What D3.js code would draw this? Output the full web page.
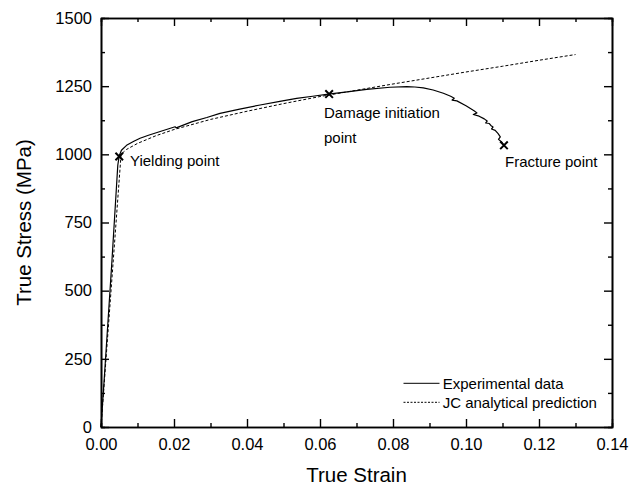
<!DOCTYPE html>
<html><head><meta charset="utf-8">
<script src="https://cdn.jsdelivr.net/npm/d3@7"></script>
<style>
html,body{margin:0;padding:0;background:#fff;}
svg{display:block;font-family:"Liberation Sans",Arial,sans-serif;}
</style></head>
<body><svg id="c" width="629" height="488"></svg>
<script>
// ---- data ----
const expStrain = [0,0.0010,0.0030,0.0046,0.0050,0.0056,0.0070,0.0090,0.0107,0.0130,0.0160,0.0203,0.0206,0.0250,0.0290,0.0326,0.0380,0.0436,0.0490,0.0536,0.0580,0.0623,0.0680,0.0728,0.0792,0.0838,0.0860,0.0883,0.0910,0.0938,0.0958,0.0968,0.0962,0.0975,0.1000,0.1022,0.1030,0.1020,0.1036,0.1050,0.1058,0.1054,0.1064,0.1068,0.1074,0.1070,0.1080,0.1088,0.1094,0.1089,0.1098,0.1104];
const expStress = [0,200,610,960,995,1015,1033,1048,1059,1070,1083,1101,1097,1120,1135,1150,1166,1181,1194,1205,1213,1221,1230,1238,1246,1248,1247,1244,1236,1224,1213,1206,1199,1196,1178,1160,1152,1146,1140,1130,1122,1115,1113,1106,1100,1093,1088,1076,1064,1055,1045,1033];
const jcStrain = [0,0.0055,0.0070,0.0100,0.0150,0.0200,0.0300,0.0400,0.0500,0.0600,0.0700,0.0800,0.0900,0.1000,0.1100,0.1200,0.1300];
const jcStress = [0,1000,1018,1040,1068,1091,1128,1158,1186,1212,1235,1258,1280,1302,1323,1345,1366];
const markStrain = [0.0050,0.0625,0.1104];
const markStress = [992,1221,1033];
const xTicks = [0,0.02,0.04,0.06,0.08,0.10,0.12,0.14];
const yTicks = [0,250,500,750,1000,1250,1500];
const xMinor = [0.01,0.03,0.05,0.07,0.09,0.11,0.13];
const yMinor = [125,375,625,875,1125,1375];
const legendLabels = ["Experimental data","JC analytical prediction"];
const annotations = [
  {text:["Yielding point"], i:0},
  {text:["Damage initiation","point"], i:1},
  {text:["Fracture point"], i:2}
];

// ---- layout ----
const L=101, R=612, T=18, B=427;
const svg = d3.select("#c");
const x = d3.scaleLinear().domain([0,0.14]).range([L,R]);
const y = d3.scaleLinear().domain([0,1500]).range([B,T]);
const fs = 16.5;

function styleAxis(g){
  g.selectAll("path.domain").attr("stroke","#000").attr("stroke-width",1.6);
  g.selectAll(".tick line").attr("stroke","#000").attr("stroke-width",1.4);
  g.selectAll("text").attr("font-size",fs).attr("fill","#000").attr("font-family","Liberation Sans, Arial, sans-serif");
}
// minor ticks
svg.append("g").attr("transform",`translate(0,${B})`).call(d3.axisBottom(x).tickValues(xMinor).tickSize(-4).tickFormat("")).call(styleAxis);
svg.append("g").attr("transform",`translate(0,${T})`).call(d3.axisTop(x).tickValues(xMinor).tickSize(-4).tickFormat("")).call(styleAxis);
svg.append("g").attr("transform",`translate(${L},0)`).call(d3.axisLeft(y).tickValues(yMinor).tickSize(-4).tickFormat("")).call(styleAxis);
svg.append("g").attr("transform",`translate(${R},0)`).call(d3.axisRight(y).tickValues(yMinor).tickSize(-4).tickFormat("")).call(styleAxis);
// major
svg.append("g").attr("transform",`translate(0,${B})`).call(d3.axisBottom(x).tickValues(xTicks).tickSize(-8).tickPadding(11).tickSizeOuter(0).tickFormat(d3.format(".2f"))).call(styleAxis);
svg.append("g").attr("transform",`translate(0,${T})`).call(d3.axisTop(x).tickValues(xTicks).tickSize(-8).tickSizeOuter(0).tickFormat("")).call(styleAxis);
svg.append("g").attr("transform",`translate(${L},0)`).call(d3.axisLeft(y).tickValues(yTicks).tickSize(-8).tickPadding(9).tickSizeOuter(0).tickFormat(d3.format("d"))).call(styleAxis);
svg.append("g").attr("transform",`translate(${R},0)`).call(d3.axisRight(y).tickValues(yTicks).tickSize(-8).tickSizeOuter(0).tickFormat("")).call(styleAxis);

// curves
const line = d3.line().x(d=>x(d[0])).y(d=>y(d[1]));
svg.append("path").datum(jcStrain.map((s,i)=>[s,jcStress[i]]))
  .attr("d",line).attr("fill","none").attr("stroke","#000").attr("stroke-width",1).attr("stroke-dasharray","3,2");
svg.append("path").datum(expStrain.map((s,i)=>[s,expStress[i]]))
  .attr("d",line).attr("fill","none").attr("stroke","#000").attr("stroke-width",1.2).attr("stroke-linejoin","round");

// markers
const m = 3.8;
markStrain.forEach((s,i)=>{
  const cx=x(s), cy=y(markStress[i]);
  svg.append("path").attr("d",`M${cx-m},${cy-m}L${cx+m},${cy+m}M${cx-m},${cy+m}L${cx+m},${cy-m}`)
    .attr("stroke","#000").attr("stroke-width",2).attr("fill","none");
});

// annotations
const annPos = [[130,165.7],[324,118.3],[505,166.7]];
annotations.forEach((a,k)=>{
  a.text.forEach((t,j)=>{
    svg.append("text").attr("x",annPos[k][0]).attr("y",annPos[k][1]+j*24.4)
      .attr("font-size",15).text(t);
  });
});

// legend
const legY = [383.3,402.3];
legendLabels.forEach((t,i)=>{
  svg.append("line").attr("x1",403.5).attr("x2",439.5).attr("y1",legY[i]).attr("y2",legY[i])
    .attr("stroke","#000").attr("stroke-width",1).attr("stroke-dasharray",i===1?"2,1.5":null);
  svg.append("text").attr("x",442.7).attr("y",legY[i]+5.2).attr("font-size",15).text(t);
});

// axis titles
svg.append("text").attr("x",(L+R)/2).attr("y",482).attr("text-anchor","middle").attr("font-size",20.5).text("True Strain");
svg.append("text").attr("transform",`translate(31,${(T+B)/2}) rotate(-90)`).attr("text-anchor","middle").attr("font-size",20.5).text("True Stress (MPa)");
</script></body></html>
